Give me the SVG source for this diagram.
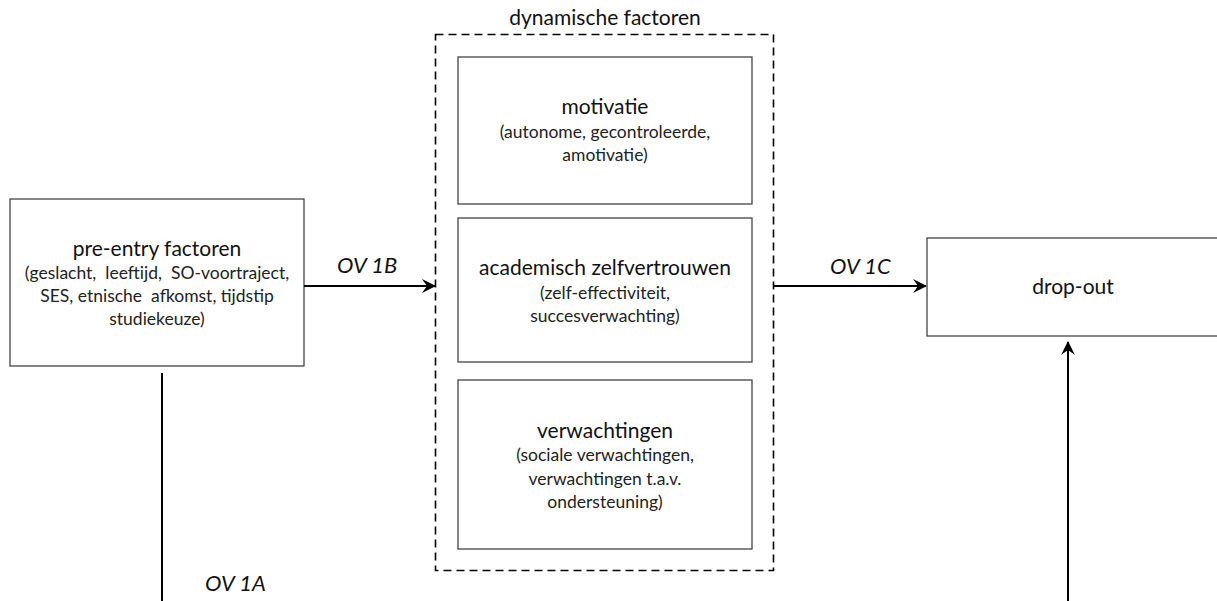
<svg xmlns="http://www.w3.org/2000/svg" width="1217" height="601" viewBox="0 0 1217 601">
<style>
.box{fill:#fff;stroke:#444;stroke-width:1.3}
.t{font-family:Lato,"Open Sans",sans-serif;font-size:21px;fill:#111;text-anchor:middle}
.s{font-family:Lato,"Open Sans",sans-serif;font-size:17.5px;fill:#222;text-anchor:middle}
.lbl{font-family:Lato,"Open Sans",sans-serif;font-size:22px;font-style:italic;fill:#111}
.ln{stroke:#000;stroke-width:2;fill:none}
</style>
<defs>
<marker id="arr" viewBox="0 0 14 14" refX="13" refY="7" markerWidth="14" markerHeight="14" markerUnits="userSpaceOnUse" orient="auto">
<path d="M0,0 L14,7 L0,14 L5,7 z" fill="#000"/>
</marker>
</defs>
<rect width="1217" height="601" fill="#fff"/>
<g id="dynamische">
<rect x="435.5" y="34.5" width="338" height="536" fill="none" stroke="#000" stroke-width="1.6" stroke-dasharray="8,5"/>
<text class="t" x="605" y="25">dynamische factoren</text>
</g>
<g id="pre-entry">
<rect class="box" x="10" y="199" width="294" height="167"/>
<text class="t" x="157" y="256">pre-entry factoren</text>
<text class="s" x="157" y="279" xml:space="preserve">(geslacht,  leeftijd,  SO-voortraject,</text>
<text class="s" x="157" y="302" xml:space="preserve">SES, etnische  afkomst, tijdstip</text>
<text class="s" x="157" y="325">studiekeuze)</text>
</g>
<g id="motivatie">
<rect class="box" x="458" y="57" width="294" height="147"/>
<text class="t" x="605" y="114">motivatie</text>
<text class="s" x="605" y="138">(autonome, gecontroleerde,</text>
<text class="s" x="605" y="161">amotivatie)</text>
</g>
<g id="zelfvertrouwen">
<rect class="box" x="458" y="218" width="294" height="144"/>
<text class="t" x="605" y="275">academisch zelfvertrouwen</text>
<text class="s" x="605" y="299">(zelf-effectiviteit,</text>
<text class="s" x="605" y="322">succesverwachting)</text>
</g>
<g id="verwachtingen">
<rect class="box" x="458" y="380" width="294" height="169"/>
<text class="t" x="605" y="438">verwachtingen</text>
<text class="s" x="605" y="461">(sociale verwachtingen,</text>
<text class="s" x="605" y="485">verwachtingen t.a.v.</text>
<text class="s" x="605" y="508">ondersteuning)</text>
</g>
<g id="dropout">
<rect class="box" x="927" y="238" width="296" height="98"/>
<text class="t" x="1073" y="294">drop-out</text>
</g>
<g id="connectors">
<line class="ln" x1="304" y1="286" x2="435" y2="286" marker-end="url(#arr)"/>
<line class="ln" x1="773" y1="286" x2="926" y2="286" marker-end="url(#arr)"/>
<line class="ln" x1="1068" y1="601" x2="1068" y2="342" marker-end="url(#arr)"/>
<line class="ln" x1="162" y1="373" x2="162" y2="601"/>
<text class="lbl" x="337" y="273">OV 1B</text>
<text class="lbl" x="830" y="274">OV 1C</text>
<text class="lbl" x="205" y="591">OV 1A</text>
</g>
</svg>
